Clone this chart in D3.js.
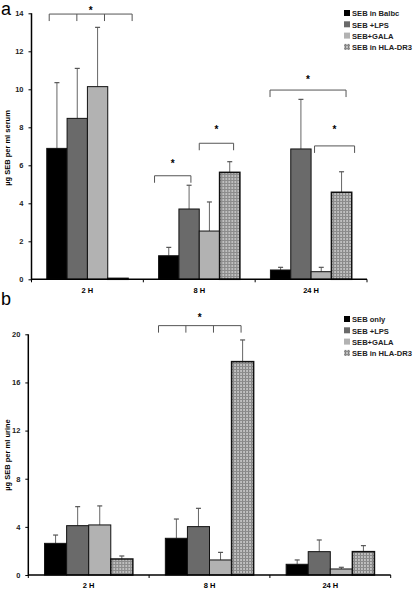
<!DOCTYPE html>
<html><head><meta charset="utf-8">
<script src="https://cdn.jsdelivr.net/npm/d3@7"></script>
<style>body{margin:0;background:#fff}svg{display:block;font-family:"Liberation Sans",Arial,sans-serif}</style>
</head><body><svg id="c" width="416" height="589"></svg>
<script>
const categories = ["2 H", "8 H", "24 H"];
const seriesA = ["SEB in Balbc", "SEB +LPS", "SEB+GALA", "SEB in HLA-DR3"];
const seriesB = ["SEB only", "SEB +LPS", "SEB+GALA", "SEB in HLA-DR3"];
// panel a (serum) values [category][series]
const serumMeans = [[6.89, 8.47, 10.14, 0.05], [1.24, 3.7, 2.54, 5.63], [0.49, 6.86, 0.4, 4.58]];
const serumErrTop = [[10.35, 11.1, 13.26, 0.05], [1.68, 4.95, 4.07, 6.19], [0.63, 9.47, 0.63, 5.66]];
// panel b (urine)
const urineMeans = [[2.63, 4.1, 4.16, 1.33], [3.05, 4.02, 1.25, 17.73], [0.89, 1.94, 0.5, 1.94]];
const urineErrTop = [[3.32, 5.68, 5.74, 1.58], [4.65, 5.54, 1.88, 19.53], [1.25, 2.91, 0.64, 2.44]];
const ticksA = [0, 2, 4, 6, 8, 10, 12, 14];
const ticksB = [0, 4, 8, 12, 16, 20];
// significance brackets: category, bracket level and star level (value units), drop ticks (series index positions)
const sigA = [
  {cat: 0, y: 13.96, star: 14.25, drops: [-0.38, 0.98, 2.34, 3.7]},
  {cat: 1, y: 5.45, star: 6.23, drops: [-0.7, 1.09]},
  {cat: 1, y: 7.16, star: 7.98, drops: [1.5, 3.19]},
  {cat: 2, y: 9.96, star: 10.61, drops: [-0.52, 3.22]},
  {cat: 2, y: 7.02, star: 7.98, drops: [1.67, 3.64]}
];
const sigB = [
  {cat: 1, y: 20.72, star: 21.53, drops: [-0.81, 0.43, 1.68, 2.93]}
];

const svg = d3.select("#c");
const defs = svg.append("defs");
const pat = defs.append("pattern").attr("id", "plaid").attr("patternUnits", "userSpaceOnUse")
  .attr("width", 3).attr("height", 3);
pat.append("rect").attr("width", 3).attr("height", 3).attr("fill", "#c0c0c0");
pat.append("rect").attr("x", 0).attr("y", 0).attr("width", 1).attr("height", 3).attr("fill", "#7e7e7e");
pat.append("rect").attr("x", 0).attr("y", 0).attr("width", 3).attr("height", 1).attr("fill", "#8c8c8c");

const fills = ["#000000", "#6a6a6a", "#b2b2b2", "url(#plaid)"];
const legendFills = ["#000000", "#6a6a6a", "#b2b2b2", "#a0a0a0"];

function panel(o) {
  const g = svg.append("g");
  const x0 = d3.scaleBand().domain(categories).range([o.x0, o.x1]).paddingInner(0).paddingOuter(0);
  const inner = o.groupW / x0.bandwidth();
  const pad = (1 - inner) / 2;
  const x1 = d3.scaleBand().domain(d3.range(4)).range([x0.bandwidth() * pad, x0.bandwidth() * (1 - pad)]);
  const y = d3.scaleLinear().domain([0, o.max]).range([o.y0, o.y1]);

  // bars
  categories.forEach((c, ci) => {
    const gg = g.append("g").attr("transform", `translate(${x0(c)},0)`);
    o.means[ci].forEach((v, si) => {
      const xx = x1(si), w = x1.bandwidth();
      const e = o.err[ci][si];
      if (e > v + 0.02) {
        gg.append("line").attr("x1", xx + w / 2).attr("x2", xx + w / 2)
          .attr("y1", y(v)).attr("y2", y(e)).attr("stroke", "#666").attr("stroke-width", 1);
        gg.append("line").attr("x1", xx + w / 2 - 2.5).attr("x2", xx + w / 2 + 2.5)
          .attr("y1", y(e)).attr("y2", y(e)).attr("stroke", "#555").attr("stroke-width", 1.2);
      }
      gg.append("rect").attr("x", xx).attr("y", y(v)).attr("width", w)
        .attr("height", Math.max(0.5, y(0) - y(v))).attr("fill", fills[si])
        .attr("stroke", "#111").attr("stroke-width", si === 3 ? 1.5 : 1);
    });
  });

  // y axis
  const ya = d3.axisLeft(y).tickValues(o.ticks).tickSize(3).tickPadding(5).tickFormat(d3.format("d"));
  const yg = g.append("g").attr("transform", `translate(${o.x0},0)`).call(ya);
  yg.select(".domain").attr("stroke", "#000").attr("stroke-width", 1.5).attr("d", `M0,${o.y0 + 1}V${o.y1}`);
  yg.selectAll(".tick line").attr("stroke", "#000");
  yg.selectAll(".tick text").attr("font-size", 7.5).attr("font-weight", "bold").attr("fill", "#222");

  // x axis
  const xg = g.append("g").attr("transform", `translate(0,${o.y0})`);
  xg.append("line").attr("x1", o.x0).attr("x2", o.x1).attr("stroke", "#000").attr("stroke-width", 1.5);
  [o.x0].concat(categories.map(c => x0(c) + x0.bandwidth())).forEach(t => {
    xg.append("line").attr("x1", t).attr("x2", t).attr("y1", 0).attr("y2", 3).attr("stroke", "#000");
  });
  categories.forEach(c => {
    xg.append("text").attr("x", x0(c) + x0.bandwidth() / 2).attr("y", o.labelDy)
      .attr("text-anchor", "middle").attr("font-size", 7.5).attr("font-weight", "bold").text(c);
  });

  // y title
  g.append("text").attr("transform", `translate(${o.titleX},${o.titleY}) rotate(-90)`)
    .attr("text-anchor", "middle").attr("font-size", 7.5).attr("font-weight", "bold").text(o.title);

  // panel letter
  g.append("text").attr("x", o.letterX).attr("y", o.letterY).attr("font-size", 18).text(o.letter);

  // significance
  o.sig.forEach(s => {
    const cx = x0(categories[s.cat]);
    const px = i => cx + x1(0) + x1.step() * i + x1.bandwidth() / 2;
    const yy = y(s.y);
    const a = s.drops[0], b = s.drops[s.drops.length - 1];
    g.append("line").attr("x1", px(a)).attr("x2", px(b)).attr("y1", yy).attr("y2", yy)
      .attr("stroke", "#555").attr("stroke-width", 1);
    s.drops.forEach(d => g.append("line").attr("x1", px(d)).attr("x2", px(d))
      .attr("y1", yy).attr("y2", yy + 7).attr("stroke", "#555").attr("stroke-width", 1));
    g.append("text").attr("x", (px(a) + px(b)) / 2).attr("y", y(s.star) + 5.6)
      .attr("text-anchor", "middle").attr("font-size", 10).attr("font-weight", "bold").text("*");
  });

  // legend
  o.series.forEach((s, i) => {
    const ly = o.legY + i * 11.3;
    g.append("rect").attr("x", 344).attr("y", ly - 3.5).attr("width", 6).attr("height", 6)
      .attr("fill", i === 3 ? "url(#plaid)" : legendFills[i]);
    g.append("text").attr("x", 352).attr("y", ly + 2.7).attr("font-size", 7.6).attr("font-weight", "bold")
      .attr("fill", "#222").text(s);
  });
}

panel({x0: 31.5, x1: 367, y0: 279.3, y1: 13.3, max: 14, groupW: 81.3, ticks: ticksA,
  means: serumMeans, err: serumErrTop, sig: sigA, series: seriesA, legY: 13.5,
  title: "µg SEB per ml serum", titleX: 10, titleY: 148, letter: "a", letterX: 1, letterY: 14.5, labelDy: 13.4});
panel({x0: 28.3, x1: 390.7, y0: 575, y1: 334.3, max: 20, groupW: 88.3, ticks: ticksB,
  means: urineMeans, err: urineErrTop, sig: sigB, series: seriesB, legY: 319.5,
  title: "µg SEB per ml urine", titleX: 10, titleY: 455, letter: "b", letterX: 1, letterY: 305, labelDy: 12.6});
</script></body></html>
